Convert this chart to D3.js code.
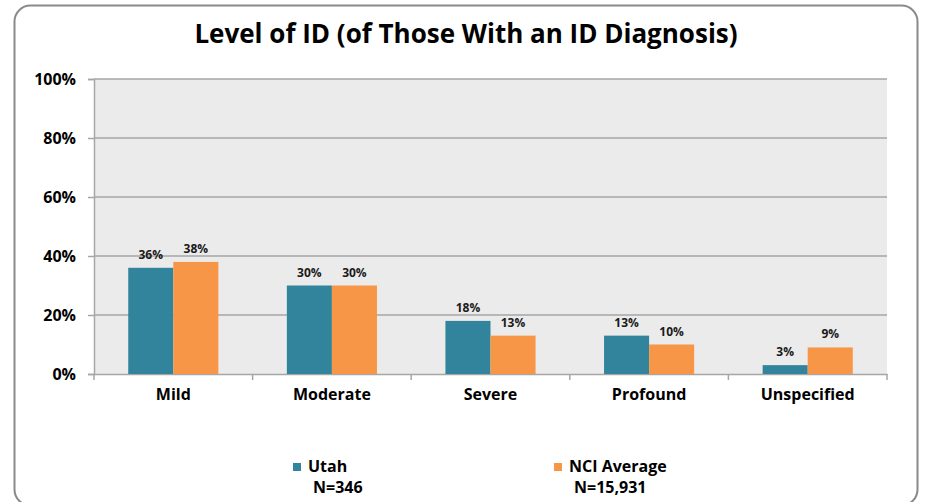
<!DOCTYPE html>
<html><head><meta charset="utf-8">
<script src="https://cdn.jsdelivr.net/npm/d3@7"></script>
<style>body{margin:0;background:#fff}svg{display:block}text{font-family:"Open Sans","Liberation Sans",sans-serif}</style>
</head><body><svg id="c" width="926" height="502"></svg>
<script>
const categories = ["Mild","Moderate","Severe","Profound","Unspecified"];
const utah = [36,30,18,13,3];
const nci = [38,30,13,10,9];
const seriesNames = ["Utah","NCI Average"];
const seriesN = ["N=346","N=15,931"];
const yTicks = [0,20,40,60,80,100];
const colors = ["#31849b","#f79646"];

const svg = d3.select("#c");
svg.append("rect").attr("x",14.5).attr("y",5.5).attr("width",903).attr("height",500).attr("rx",16)
  .attr("fill","#fff").attr("stroke","#8a8a8a").attr("stroke-width",2);

const m = {l:94,r:887,t:79,b:374};
const x = d3.scaleBand().domain(categories).range([m.l,m.r]);
const y = d3.scaleLinear().domain([0,100]).range([m.b,m.t]);
const xs = d3.scaleBand().domain([0,1]).range([0,x.bandwidth()]).paddingInner(0).paddingOuter(0.76);

svg.append("rect").attr("x",m.l).attr("y",m.t).attr("width",m.r-m.l).attr("height",m.b-m.t).attr("fill","#ebebeb");

svg.append("text").attr("x",466).attr("y",43).attr("text-anchor","middle")
  .attr("font-size",26).attr("font-weight",700).attr("fill","#000").text("Level of ID (of Those With an ID Diagnosis)");

// grid
svg.append("g").selectAll("line").data(yTicks.slice(1)).join("line")
  .attr("x1",m.l).attr("x2",m.r).attr("y1",d=>y(d)).attr("y2",d=>y(d)).attr("stroke","#a6a6a6").attr("stroke-width",1.5);

// y axis
const ya = svg.append("g").attr("transform",`translate(${m.l},0)`)
  .call(d3.axisLeft(y).tickValues(yTicks).tickFormat(d=>d+"%").tickSize(6).tickPadding(12));
ya.select(".domain").attr("stroke","#a6a6a6").attr("stroke-width",1.5);
ya.selectAll(".tick line").attr("stroke","#a6a6a6").attr("stroke-width",1.5);
ya.selectAll("text").attr("font-size",16).attr("font-weight",700).attr("fill","#000").attr("font-family","'Open Sans',sans-serif");

// x axis
const xa = svg.append("g").attr("transform",`translate(0,${m.b})`)
  .call(d3.axisBottom(x).tickSize(0).tickPadding(15));
xa.select(".domain").attr("stroke","#a6a6a6").attr("stroke-width",1.5);
xa.selectAll("text").attr("font-size",16).attr("font-weight",700).attr("fill","#000").attr("font-family","'Open Sans',sans-serif");
const bounds = categories.map(c=>x(c)).concat([m.r]);
svg.append("g").selectAll("line").data(bounds).join("line")
  .attr("x1",d=>d).attr("x2",d=>d).attr("y1",m.b).attr("y2",m.b+6).attr("stroke","#a6a6a6").attr("stroke-width",1.5);

// bars
const series = [utah,nci];
series.forEach((vals,si)=>{
  const g = svg.append("g");
  g.selectAll("rect").data(vals).join("rect")
    .attr("x",(d,i)=>x(categories[i])+xs(si)).attr("width",xs.bandwidth())
    .attr("y",d=>y(d)).attr("height",d=>y(0)-y(d)).attr("fill",colors[si]);
  g.selectAll("text").data(vals).join("text")
    .attr("x",(d,i)=>x(categories[i])+xs(si)+xs.bandwidth()/2).attr("y",d=>y(d)-9)
    .attr("text-anchor","middle").attr("font-size",12).attr("font-weight",700).attr("fill","#1a1a1a").text(d=>d+"%");
});

// legend
const lx = [293,554];
seriesNames.forEach((n,i)=>{
  svg.append("rect").attr("x",lx[i]).attr("y",463).attr("width",8).attr("height",8).attr("fill",colors[i]);
  svg.append("text").attr("x",lx[i]+15).attr("y",472).attr("font-size",16).attr("font-weight",700).attr("fill","#000").text(n);
  svg.append("text").attr("x",lx[i]+20).attr("y",493).attr("font-size",16).attr("font-weight",700).attr("fill","#000").text(seriesN[i]);
});
</script></body></html>
